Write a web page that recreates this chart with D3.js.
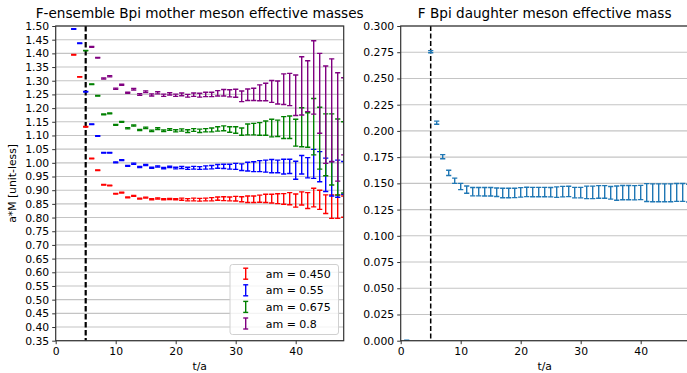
<!DOCTYPE html>
<html><head><meta charset="utf-8">
<script src="https://cdn.jsdelivr.net/npm/d3@7"></script>
<style>body{margin:0;background:#fff}svg{display:block}text{font-family:"DejaVu Sans",sans-serif;fill:#000}</style>
</head><body>
<svg id="c" width="687" height="373"></svg>
<script>
// ---- data ----
const redStart = 3;
const redVals = [1.395,1.314,1.132,1.016,0.973,0.920,0.917,0.887,0.891,0.874,0.879,0.869,0.873,0.867,0.870,0.867,0.868,0.867,0.867,0.865,0.866,0.865,0.866,0.867,0.869,0.869,0.868,0.869,0.867,0.867,0.867,0.869,0.870,0.869,0.869,0.868,0.869,0.862,0.870,0.862,0.873,0.865,0.849,0.840,0.840,0.840];
const redErrs = [0.001,0.001,0.001,0.001,0.001,0.001,0.001,0.0015,0.0015,0.0015,0.0015,0.0015,0.0015,0.002,0.002,0.002,0.002,0.002,0.004,0.004,0.005,0.005,0.005,0.006,0.006,0.007,0.007,0.0085,0.009,0.012,0.012,0.013,0.015,0.016,0.018,0.0195,0.022,0.024,0.024,0.029,0.034,0.035,0.034,0.043,0.043,0.039];
const blueStart = 3;
const blueVals = [1.489,1.437,1.260,1.141,1.098,1.037,1.037,1.002,1.010,0.989,0.997,0.985,0.992,0.982,0.987,0.981,0.985,0.981,0.983,0.980,0.982,0.981,0.983,0.984,0.987,0.987,0.986,0.987,0.984,0.986,0.986,0.988,0.988,0.988,0.987,0.986,0.987,0.973,0.993,0.982,0.996,0.986,0.956,0.942,0.942,0.945];
const blueErrs = [0.001,0.001,0.001,0.001,0.001,0.001,0.001,0.0015,0.0015,0.0015,0.002,0.002,0.002,0.002,0.002,0.0025,0.0025,0.003,0.004,0.004,0.005,0.005,0.006,0.006,0.007,0.008,0.009,0.011,0.012,0.016,0.018,0.020,0.022,0.024,0.023,0.027,0.026,0.033,0.034,0.037,0.053,0.055,0.061,0.063,0.068,0.060];
const greenStart = 5;
const greenVals = [1.410,1.287,1.245,1.177,1.181,1.139,1.150,1.126,1.136,1.120,1.128,1.117,1.125,1.117,1.122,1.117,1.120,1.116,1.120,1.117,1.119,1.120,1.124,1.126,1.122,1.120,1.114,1.122,1.123,1.124,1.127,1.127,1.126,1.129,1.130,1.110,1.130,1.120,1.132,1.090,1.066,1.049,1.021,1.020];
const greenErrs = [0.001,0.001,0.001,0.0015,0.0015,0.0015,0.0015,0.002,0.002,0.002,0.0025,0.0025,0.003,0.003,0.003,0.004,0.004,0.005,0.005,0.006,0.006,0.007,0.008,0.009,0.010,0.012,0.013,0.020,0.021,0.023,0.026,0.032,0.030,0.040,0.041,0.049,0.071,0.063,0.103,0.113,0.113,0.130,0.139,0.130];
const purpleStart = 6;
const purpleVals = [1.424,1.384,1.308,1.316,1.271,1.285,1.256,1.269,1.250,1.260,1.248,1.256,1.247,1.252,1.247,1.250,1.245,1.249,1.247,1.250,1.250,1.254,1.256,1.254,1.254,1.243,1.249,1.250,1.256,1.259,1.261,1.257,1.269,1.268,1.247,1.281,1.280,1.312,1.254,1.176,1.192,1.131,1.170];
const purpleErrs = [0.0015,0.0015,0.002,0.002,0.002,0.002,0.002,0.003,0.003,0.003,0.004,0.004,0.004,0.004,0.004,0.005,0.005,0.006,0.007,0.008,0.008,0.010,0.012,0.013,0.0146,0.0195,0.021,0.0225,0.029,0.032,0.040,0.042,0.056,0.059,0.074,0.1065,0.093,0.134,0.146,0.178,0.188,0.198,0.141];
const legendLabels = ["am = 0.450","am = 0.55","am = 0.675","am = 0.8"];
const seriesColors = ["#ff0000","#0000ff","#008000","#800080"];

const daughterT = [1,5,6,7,8,9,10,11,12,13,14,15,16,17,18,19,20,21,22,23,24,25,26,27,28,29,30,31,32,33,34,35,36,37,38,39,40,41,42,43,44,45,46,47,48];
const daughterVals = [0.0,0.2755,0.2078,0.1754,0.1600,0.1525,0.1470,0.1440,0.1421,0.1421,0.1420,0.1420,0.1415,0.1408,0.1408,0.1409,0.1414,0.1418,0.1417,0.1417,0.1417,0.1416,0.1416,0.1421,0.1423,0.1412,0.1412,0.1414,0.1414,0.1418,0.1418,0.1410,0.1407,0.1411,0.1411,0.1410,0.1413,0.1412,0.1410,0.1410,0.1410,0.1410,0.1413,0.1413,0.1407];
const daughterErrs = [0.0005,0.001,0.0015,0.002,0.0025,0.0025,0.003,0.0035,0.004,0.004,0.004,0.004,0.004,0.0045,0.0045,0.0045,0.0045,0.0045,0.0045,0.0045,0.0045,0.0045,0.005,0.005,0.005,0.005,0.005,0.006,0.006,0.006,0.006,0.006,0.0068,0.0068,0.0068,0.0068,0.0068,0.0085,0.0085,0.0085,0.0085,0.0085,0.0085,0.0085,0.0085];

const xTicks = [0,10,20,30,40];
const leftYTicks = d3.range(0,24).map(i => +(0.35 + i*0.05).toFixed(2));
const rightYTicks = d3.range(0,13).map(i => +(i*0.025).toFixed(3));
const cutT = 5;

// ---- drawing ----
const svg = d3.select("#c");
const plotTop = 26, plotBottom = 340.7;

function panel(opt){
  const x = d3.scaleLinear().domain([0,48]).range([opt.x0, opt.x1]);
  const y = d3.scaleLinear().domain(opt.ydom).range([plotBottom, plotTop]);
  const g = svg.append("g");
  const cid = "clip" + opt.id;
  svg.append("clipPath").attr("id", cid).append("rect")
    .attr("x", opt.x0).attr("y", plotTop).attr("width", opt.x1-opt.x0).attr("height", plotBottom-plotTop);
  g.append("g").selectAll("line").data(opt.yticks).join("line")
    .attr("x1", opt.x0).attr("x2", opt.x1).attr("y1", d=>y(d)).attr("y2", d=>y(d))
    .attr("stroke", "#c4c4c4").attr("stroke-width", 1.1);
  g.append("line").attr("x1", x(cutT)).attr("x2", x(cutT)).attr("y1", plotTop).attr("y2", plotBottom)
    .attr("stroke", "#000").attr("stroke-width", opt.dashW).attr("stroke-dasharray", opt.dash);
  const data = g.append("g").attr("clip-path", `url(#${cid})`);
  opt.series.forEach(s => {
    const pts = s.t.map((t,i) => ({t, v:s.v[i], e:s.e[i]}));
    const sg = data.append("g").attr("stroke", s.color).attr("stroke-width", 1.4).attr("fill","none");
    sg.selectAll("line.v").data(pts).join("line").attr("class","v")
      .attr("x1", d=>x(d.t)).attr("x2", d=>x(d.t)).attr("y1", d=>y(d.v-d.e)).attr("y2", d=>y(d.v+d.e));
    sg.selectAll("line.ct").data(pts).join("line").attr("class","ct")
      .attr("x1", d=>x(d.t)-2.6).attr("x2", d=>x(d.t)+2.6).attr("y1", d=>y(d.v+d.e)).attr("y2", d=>y(d.v+d.e));
    sg.selectAll("line.cb").data(pts).join("line").attr("class","cb")
      .attr("x1", d=>x(d.t)-2.6).attr("x2", d=>x(d.t)+2.6).attr("y1", d=>y(d.v-d.e)).attr("y2", d=>y(d.v-d.e));
  });
  const ax = g.append("g").attr("transform", `translate(0,${plotBottom})`)
    .call(d3.axisBottom(x).tickValues(xTicks).tickFormat(d3.format("d")).tickSize(3.5).tickPadding(3));
  const ay = g.append("g").attr("transform", `translate(${opt.x0},0)`)
    .call(d3.axisLeft(y).tickValues(opt.yticks).tickFormat(d3.format(opt.fmt)).tickSize(3.5).tickPadding(3));
  [ax, ay].forEach(a => {
    a.select(".domain").remove();
    a.selectAll("text").attr("font-size", "10.8px").attr("font-family", "DejaVu Sans").attr("fill", "#000");
    a.selectAll("line").attr("stroke", "#333").attr("stroke-width", 1);
  });
  g.append("rect").attr("x", opt.x0).attr("y", plotTop).attr("width", opt.x1-opt.x0).attr("height", plotBottom-plotTop)
    .attr("fill", "none").attr("stroke", "#333").attr("stroke-width", 1.2);
  svg.append("text").attr("x", opt.titleX).attr("y", 18.3)
    .attr("text-anchor","middle").attr("font-size","13.6px").text(opt.title);
  svg.append("text").attr("x", x(24)).attr("y", 370).attr("text-anchor","middle")
    .attr("font-size","10.8px").text("t/a");
  return {x,y,g};
}

panel({
  id:"L", x0:55.7, x1:343.7, ydom:[0.35,1.5], yticks:leftYTicks, fmt:".2f",
  dashW:2.2, dash:"5.5,2.5", title:"F-ensemble Bpi mother meson effective masses", titleX:199.7,
  series:[
    {t:redVals.map((_,i)=>redStart+i), v:redVals, e:redErrs, color:seriesColors[0]},
    {t:blueVals.map((_,i)=>blueStart+i), v:blueVals, e:blueErrs, color:seriesColors[1]},
    {t:greenVals.map((_,i)=>greenStart+i), v:greenVals, e:greenErrs, color:seriesColors[2]},
    {t:purpleVals.map((_,i)=>purpleStart+i), v:purpleVals, e:purpleErrs, color:seriesColors[3]}
  ]
});
panel({
  id:"R", x0:400.7, x1:688.7, ydom:[0,0.3], yticks:rightYTicks, fmt:".3f",
  dashW:1.5, dash:"5,2.5", title:"F Bpi daughter meson effective mass", titleX:544.7,
  series:[{t:daughterT, v:daughterVals, e:daughterErrs, color:"#1f77b4"}]
});

svg.append("text").attr("transform","translate(16,183.4) rotate(-90)").attr("text-anchor","middle")
  .attr("font-size","10.8px").text("a*M [unit-less]");

const lg = svg.append("g");
lg.append("rect").attr("x",230).attr("y",264.5).attr("width",108.5).attr("height",70).attr("rx",2.5)
  .attr("fill","#fff").attr("fill-opacity",0.8).attr("stroke","#d0d0d0").attr("stroke-width",1);
legendLabels.forEach((lab,i) => {
  const cy = 273.7 + i*16.6;
  const c = seriesColors[i];
  const ig = lg.append("g").attr("stroke", c).attr("stroke-width",1.4);
  ig.append("line").attr("x1",245.7).attr("x2",245.7).attr("y1",cy-5.5).attr("y2",cy+5.5);
  ig.append("line").attr("x1",243.2).attr("x2",248.2).attr("y1",cy-5.5).attr("y2",cy-5.5);
  ig.append("line").attr("x1",243.2).attr("x2",248.2).attr("y1",cy+5.5).attr("y2",cy+5.5);
  lg.append("text").attr("x",265.7).attr("y",cy+4).attr("font-size","11px").text(lab);
});
</script>
</body></html>
